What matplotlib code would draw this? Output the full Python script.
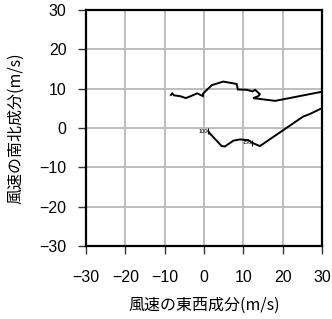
import matplotlib
matplotlib.use("Agg")
import matplotlib.pyplot as plt

# Hodograph wind components (m/s)
u_upper = [-8.4, -8.1, -7.6, -6.1, -4.6, -1.7, -0.3, -0.2, 2.0, 4.9, 8.3, 8.6, 11.0, 12.3, 13.0, 14.2, 13.8, 12.5, 18.1, 29.9, 33.0]
v_upper = [8.4, 8.8, 8.3, 8.1, 7.6, 8.8, 8.1, 8.8, 10.9, 11.8, 11.2, 9.8, 9.7, 9.3, 9.7, 8.6, 8.1, 7.6, 6.9, 9.2, 9.8]
u_lower = [33.0, 29.9, 27.0, 25.2, 14.2, 12.1, 11.3, 9.2, 7.5, 5.3, 4.5, 1.5, 1.1]
v_lower = [4.0, 5.0, 3.6, 2.9, -4.6, -3.7, -3.1, -2.9, -3.2, -4.7, -4.6, -1.4, -0.8]
label_text = ["100", "150"]
label_u = [1.1, 12.1]
label_v = [-0.8, -3.7]

ticks = [-30, -20, -10, 0, 10, 20, 30]
tick_labels = ["\u221230", "\u221220", "\u221210", "0", "10", "20", "30"]

fig = plt.figure(figsize=(3.32, 3.19), dpi=100)
ax = fig.add_axes([86/332, 1-246/319, 236/332, 236/319])
ax.set_xlim(-30, 30)
ax.set_ylim(-30, 30)

for t in ticks:
    ax.axvline(t, color="#bdbdbd", lw=1.4, zorder=1)
    ax.axhline(t, color="#bdbdbd", lw=1.4, zorder=1)

ax.plot(u_upper, v_upper, color="black", lw=1.4, zorder=3, solid_joinstyle="miter")
ax.plot(u_lower, v_lower, color="black", lw=1.4, zorder=3, solid_joinstyle="miter")
for s, x, y in zip(label_text, label_u, label_v):
    ax.text(x, y, s, fontsize=4, ha="right", va="center", family="Liberation Sans", zorder=4)
    ax.plot([x], [y], marker="|", ms=4, color="black", mew=0.8, zorder=4)

ax.set_xticks(ticks)
ax.set_yticks(ticks)
ax.set_xticklabels(tick_labels, family="Liberation Sans", fontsize=11.5)
ax.set_yticklabels(tick_labels, family="Liberation Sans", fontsize=11.5)
ax.tick_params(direction="out", length=6, width=1, color="#333333")
ax.tick_params(axis="x", pad=11)
ax.tick_params(axis="y", pad=8)
for sp in ax.spines.values():
    sp.set_linewidth(1.6)

ax.set_xlabel("風速の東西成分(m/s)", fontsize=11.5, family=["Noto Sans CJK JP", "DejaVu Sans"], labelpad=9)
ax.set_ylabel("風速の南北成分(m/s)", fontsize=11.5, family=["Noto Sans CJK JP", "DejaVu Sans"], labelpad=11)

fig.savefig("out.png", dpi=100)
